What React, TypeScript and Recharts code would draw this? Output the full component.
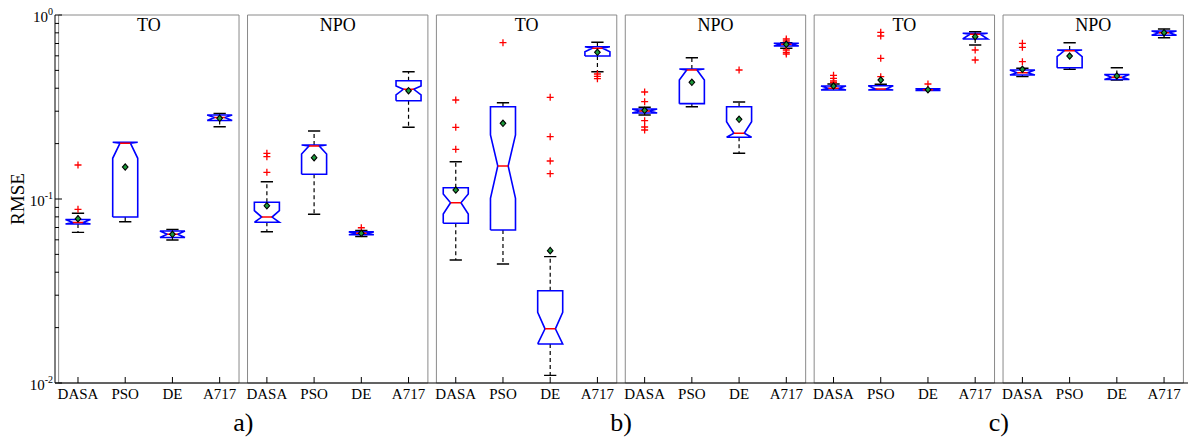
import React from "react";
import { ComposedChart, Line, Scatter, XAxis, YAxis, ReferenceArea } from "recharts";

document.body.style.margin = "0";

const categories = ["DASA", "PSO", "DE", "A717"];
const panelTitles = ["TO", "NPO", "TO", "NPO", "TO", "NPO"];
const groupLabels = ["a)", "b)", "c)"];
const yTicks = [
  0.01, 0.02, 0.03, 0.04, 0.05, 0.06, 0.07, 0.08, 0.09,
  0.1, 0.2, 0.3, 0.4, 0.5, 0.6, 0.7, 0.8, 0.9, 1,
];

// one value per box, panel by panel, in the order of categories
const q1 = [
  0.0731, 0.0798, 0.0618, 0.2671,
  0.0747, 0.1362, 0.0639, 0.342,
  0.0738, 0.0679, 0.0163, 0.5985,
  0.2934, 0.3297, 0.2164, 0.6784,
  0.3911, 0.3911, 0.3887, 0.7404,
  0.472, 0.5171, 0.4461, 0.7757,
];
const median = [
  0.0745, 0.201, 0.0643, 0.2772,
  0.0798, 0.1941, 0.0651, 0.3947,
  0.0954, 0.1511, 0.0197, 0.6592,
  0.3008, 0.5024, 0.2276, 0.693,
  0.3995, 0.3961, 0.3927, 0.7855,
  0.4858, 0.6397, 0.4585, 0.8012,
];
const q3 = [
  0.0774, 0.2033, 0.067, 0.2861,
  0.096, 0.1965, 0.0663, 0.4395,
  0.1152, 0.3174, 0.0317, 0.6725,
  0.3085, 0.5087, 0.3174, 0.7017,
  0.4112, 0.4128, 0.3972, 0.7954,
  0.5024, 0.6454, 0.4749, 0.8185,
];
const notchLo = [
  0.0731, 0.1664, 0.0618, 0.2671,
  0.0747, 0.1757, 0.0639, 0.3675,
  0.0829, 0.1009, 0.0163, 0.6317,
  0.2934, 0.4432, 0.2164, 0.6784,
  0.3911, 0.3911, 0.3887, 0.7404,
  0.472, 0.5933, 0.4461, 0.7757,
];
const notchHi = [
  0.0774, 0.2033, 0.067, 0.2861,
  0.0864, 0.1965, 0.0663, 0.4112,
  0.1064, 0.2228, 0.0242, 0.6725,
  0.3085, 0.5087, 0.263, 0.7017,
  0.4112, 0.4128, 0.3972, 0.7954,
  0.5024, 0.6454, 0.4749, 0.8185,
];
const whiskerLo = [
  0.0659, 0.0752, 0.0599, 0.2471,
  0.0664, 0.0826, 0.0625, 0.2453,
  0.0466, 0.0443, 0.011, 0.4918,
  0.2861, 0.3174, 0.1772, 0.6592,
  0.3911, 0.3911, 0.3887, 0.6871,
  0.4622, 0.5068, 0.4432, 0.7527,
];
const whiskerHi = [
  0.0836, 0.2033, 0.0683, 0.2915,
  0.1242, 0.2343, 0.0674, 0.4918,
  0.1595, 0.3338, 0.0486, 0.7107,
  0.3151, 0.5861, 0.3365, 0.7071,
  0.4217, 0.4201, 0.3972, 0.8114,
  0.5132, 0.7071, 0.5171, 0.8392,
];
const mean = [
  0.0781, 0.1492, 0.0643, 0.2745,
  0.0919, 0.1677, 0.0651, 0.3878,
  0.1119, 0.2578, 0.0524, 0.627,
  0.3034, 0.4307, 0.2711, 0.693,
  0.4112, 0.4432, 0.3927, 0.7623,
  0.5068, 0.5985, 0.4661, 0.8012,
];
const outliers = [
  [0.153, 0.0879], [], [], [],
  [0.1772, 0.1698, 0.1397], [], [0.0698], [],
  [0.3452, 0.2453, 0.1863], [0.7071], [0.3569, 0.2182, 0.1609, 0.1373], [0.4778, 0.4643, 0.4506],
  [0.3816, 0.3379, 0.2664, 0.2462, 0.2371], [], [0.5024], [0.7404, 0.7222, 0.6454, 0.627, 0.6138],
  [0.4701, 0.4529, 0.4379, 0.4286], [0.805, 0.769, 0.5817, 0.4622], [0.4217], [0.6454, 0.5694],
  [0.7017, 0.6672, 0.5574], [], [], [],
];

const FONT = '"Liberation Serif", "Times New Roman", serif';
const HALF = 0.265; // box half width, in category units
const NOTCH = 0.11;
const CAP = 0.13;
const PAD = 0.41;
const GAP = { x: null, y: null };

// box index i sits at x = 4 * panel + category = i
const boxes = q1.flatMap((lo, i) => [
  { x: i - HALF, y: lo },
  { x: i - HALF, y: notchLo[i] },
  { x: i - NOTCH, y: median[i] },
  { x: i - HALF, y: notchHi[i] },
  { x: i - HALF, y: q3[i] },
  { x: i + HALF, y: q3[i] },
  { x: i + HALF, y: notchHi[i] },
  { x: i + NOTCH, y: median[i] },
  { x: i + HALF, y: notchLo[i] },
  { x: i + HALF, y: lo },
  { x: i - HALF, y: lo },
  GAP,
]);
const medians = median.flatMap((m, i) => [{ x: i - NOTCH, y: m }, { x: i + NOTCH, y: m }, GAP]);
const whiskers = q1.flatMap((lo, i) => [
  ...(whiskerHi[i] > q3[i] ? [{ x: i, y: q3[i] }, { x: i, y: whiskerHi[i] }, GAP] : []),
  ...(whiskerLo[i] < lo ? [{ x: i, y: lo }, { x: i, y: whiskerLo[i] }, GAP] : []),
]);
const caps = q1.flatMap((lo, i) => [
  ...(whiskerHi[i] > q3[i] ? [{ x: i - CAP, y: whiskerHi[i] }, { x: i + CAP, y: whiskerHi[i] }, GAP] : []),
  ...(whiskerLo[i] < lo ? [{ x: i - CAP, y: whiskerLo[i] }, { x: i + CAP, y: whiskerLo[i] }, GAP] : []),
]);
const outlierPoints = outliers.flatMap((list, i) => list.map((v) => ({ x: i, y: v })));
const meanPoints = mean.map((v, i) => ({ x: i, y: v }));
const xTicks = panelTitles.flatMap((_, p) => categories.map((_, c) => 4 * p + c));
const groupTicks = groupLabels.map((_, g) => 8 * g + 3.5);

function XTick({ x, y, payload }: any) {
  return (
    <g>
      <line x1={x} x2={x} y1={y} y2={y - 6} stroke="#000" />
      <text x={x} y={y + 16} textAnchor="middle" fontSize={15} fill="#000" fontFamily={FONT}>
        {categories[Math.round(payload.value) % 4]}
      </text>
    </g>
  );
}

function YTick({ x, y, payload }: any) {
  const lg = Math.log10(payload.value);
  const exp = Math.round(lg);
  const major = Math.abs(lg - exp) < 1e-6;
  return (
    <g>
      <line x1={x} x2={x + (major ? 7 : 4)} y1={y} y2={y} stroke="#000" />
      {major && (
        <text x={x - 2} y={y + 7} textAnchor="end" fontSize={15} fill="#000" fontFamily={FONT}>
          <tspan>10</tspan>
          <tspan dy={-7} fontSize={10}>{String(exp)}</tspan>
        </text>
      )}
    </g>
  );
}

function Plus({ cx, cy }: any) {
  return <path d={`M${cx - 3.5},${cy}H${cx + 3.5}M${cx},${cy - 3.5}V${cy + 3.5}`} stroke="#ff0000" strokeWidth={1.3} />;
}

function Diamond({ cx, cy }: any) {
  return (
    <path
      d={`M${cx},${cy - 3.2}L${cx + 2.8},${cy}L${cx},${cy + 3.2}L${cx - 2.8},${cy}Z`}
      fill="#1c9a3a"
      stroke="#000"
      strokeWidth={1.1}
    />
  );
}

function AxisTitle({ viewBox }: any) {
  const bx = viewBox.x + 24;
  const by = viewBox.y + viewBox.height / 2;
  return (
    <text x={bx} y={by} transform={`rotate(-90 ${bx} ${by})`} textAnchor="middle" fontSize={19} fill="#000" fontFamily={FONT}>
      RMSE
    </text>
  );
}

export default function App() {
  return (
    <div style={{ width: 1200, height: 448, background: "#fff", fontFamily: FONT }}>
      <ComposedChart width={1200} height={448} margin={{ top: 15, right: 12, bottom: 0, left: 0 }}>
        <XAxis
          dataKey="x"
          type="number"
          domain={[-0.487, 23.507]}
          allowDataOverflow
          ticks={xTicks}
          interval={0}
          tickSize={0}
          tickMargin={0}
          tickLine={false}
          axisLine={{ stroke: "#000" }}
          tick={<XTick />}
          height={30}
        />
        <XAxis
          xAxisId="group"
          dataKey="x"
          type="number"
          domain={[-0.487, 23.507]}
          allowDataOverflow
          ticks={groupTicks}
          interval={0}
          tickSize={0}
          tickMargin={0}
          tickLine={false}
          axisLine={false}
          tickFormatter={(v: number) => groupLabels[Math.floor(v / 8)]}
          tick={{ fontSize: 26, fill: "#000", fontFamily: FONT }}
          height={35}
        />
        <YAxis
          dataKey="y"
          type="number"
          scale="log"
          domain={[0.01, 1]}
          allowDataOverflow
          ticks={yTicks}
          interval={0}
          tickSize={0}
          tickMargin={0}
          tickLine={false}
          axisLine={{ stroke: "#000" }}
          tick={<YTick />}
          width={55}
          label={{ content: <AxisTitle /> }}
        />
        {panelTitles.map((t, p) => (
          <ReferenceArea
            key={p}
            x1={4 * p - PAD}
            x2={4 * p + 3 + PAD}
            y1={0.01}
            y2={1}
            ifOverflow="visible"
            fill="none"
            fillOpacity={0}
            stroke="#8a8a8a"
            strokeWidth={1}
            label={{ value: t, position: "insideTop", offset: 3, fontSize: 18, fill: "#000", fontFamily: FONT }}
          />
        ))}
        <Line data={whiskers} dataKey="y" stroke="#000" strokeWidth={1.2} strokeDasharray="4 3" dot={false} activeDot={false} isAnimationActive={false} />
        <Line data={caps} dataKey="y" stroke="#000" strokeWidth={1.4} dot={false} activeDot={false} isAnimationActive={false} />
        <Line data={boxes} dataKey="y" stroke="#0000ff" strokeWidth={1.6} dot={false} activeDot={false} isAnimationActive={false} />
        <Line data={medians} dataKey="y" stroke="#ff0000" strokeWidth={1.4} dot={false} activeDot={false} isAnimationActive={false} />
        <Scatter data={outlierPoints} dataKey="y" shape={<Plus />} isAnimationActive={false} />
        <Scatter data={meanPoints} dataKey="y" shape={<Diamond />} isAnimationActive={false} />
      </ComposedChart>
    </div>
  );
}
